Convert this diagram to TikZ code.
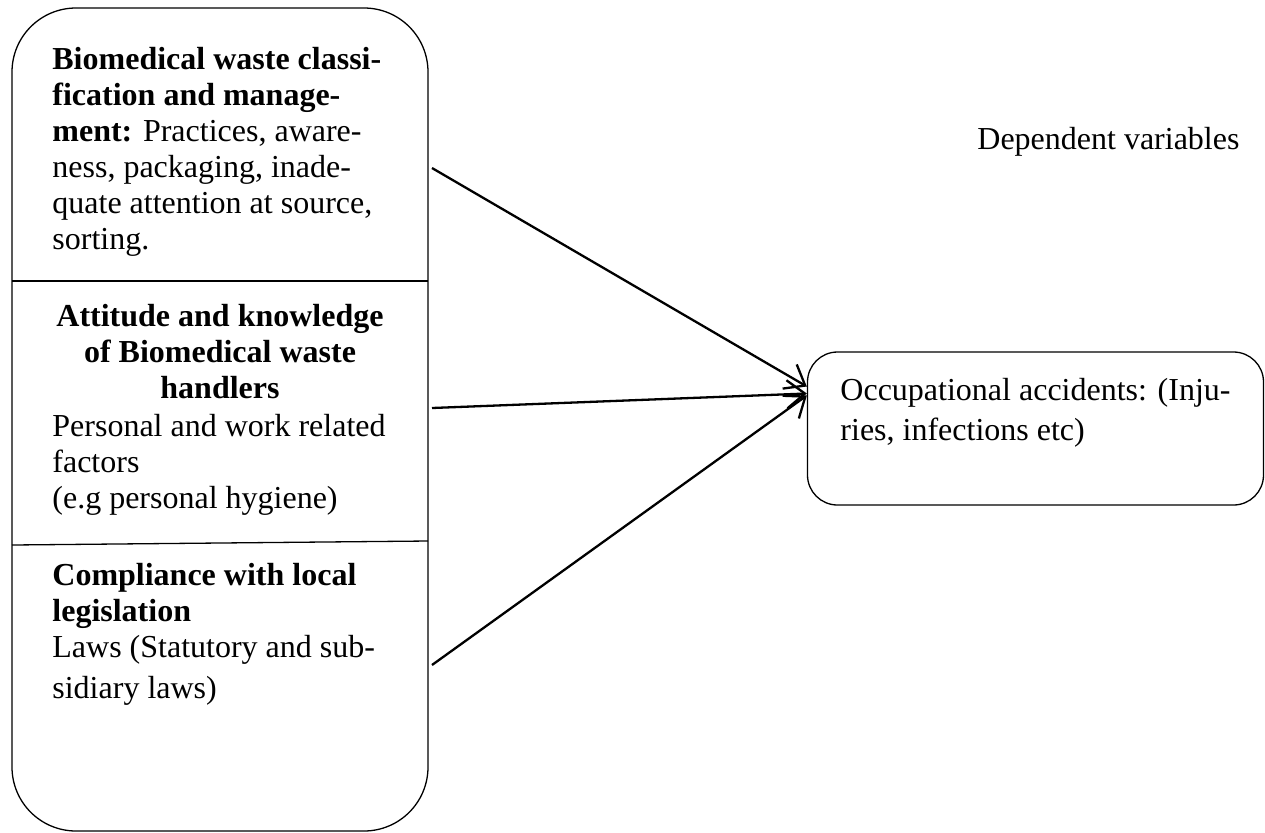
\documentclass[tikz,border=0pt]{standalone}
\usepackage{fontspec}
\setmainfont{Liberation Serif}
\usetikzlibrary{arrows.meta,positioning}

\begin{document}
\begin{tikzpicture}[x=0.5pt,y=-0.5pt,
    txt/.style={inner sep=0pt, font=\fontsize{16}{18}\selectfont},
    frame/.style={draw, line width=0.65pt},
    link/.style={line width=1.15pt, -{Straight Barb[length=9pt,width=14pt]}}]
    \useasboundingbox (0,0) rectangle (1265,832);

    % independent variables
    \node[frame, rounded corners=32pt, minimum width=208pt, minimum height=411.5pt] (indep) at (220,419.5) {};
    \draw[line width=0.65pt] (12,281) -- (428,281);
    \draw[line width=0.65pt] (12,545) -- (428,541);

    \node[txt, anchor=north west, align=left] (bwm) at (52,47)
        {\textbf{Biomedical waste classi-}\\\textbf{fication and manage-}\\\textbf{ment:} Practices, aware-\\ness, packaging, inade-\\quate attention at source,\\sorting.};
    \node[txt, anchor=north, align=center] (att) at (220,304)
        {\textbf{Attitude and knowledge}\\\textbf{of Biomedical waste}\\\textbf{handlers}};
    \node[txt, anchor=north west, align=left] (attx) at (52,414)
        {Personal and work related\\factors\\(e.g personal hygiene)};
    \node[txt, anchor=north west, align=left] (comp) at (52,563)
        {\textbf{Compliance with local}\\\textbf{legislation}\\Laws (Statutory and sub-\\[2.5pt]sidiary laws)};

    % dependent variable
    \node[txt, anchor=base west] (dep) at (977,149) {Dependent variables};
    \node[frame, txt, rounded corners=15pt, minimum width=228pt, minimum height=76.5pt,
        align=left] (occ) at (1035.5,428.5)
        {Occupational accidents: (Inju-\\[2pt]ries, infections etc)\\[1.5pt]\mbox{}};

    \coordinate (s1) at (432,168);
    \coordinate (s2) at (432,408);
    \coordinate (s3) at (432,665);
    \draw[link] (s1) -- ([yshift=21pt]occ.west);
    \draw[link] (s2) -- ([yshift=17.5pt]occ.west);
    \draw[link] (s3) -- ([yshift=16.5pt]occ.west);
    %\draw[link] (dep) -- (occ);
\end{tikzpicture}
\end{document}
